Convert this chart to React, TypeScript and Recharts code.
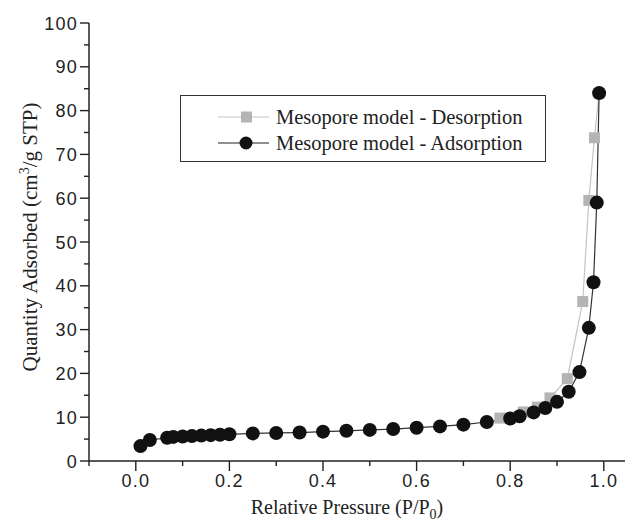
import React from 'react';
import { LineChart, Line, XAxis, YAxis, Legend, Label } from 'recharts';

// relative pressure P/P0 and quantity adsorbed (cm3/g STP)
const adsorptionP = [0.01, 0.03, 0.067, 0.08, 0.1, 0.12, 0.14, 0.16, 0.18, 0.2, 0.25, 0.3, 0.35, 0.4, 0.45, 0.5, 0.55, 0.6, 0.65, 0.7, 0.75, 0.8, 0.82, 0.85, 0.875, 0.9, 0.925, 0.948, 0.968, 0.978, 0.985, 0.99];
const adsorptionQ = [3.4, 4.8, 5.3, 5.5, 5.6, 5.7, 5.8, 5.9, 6.0, 6.1, 6.3, 6.4, 6.5, 6.7, 6.9, 7.1, 7.3, 7.6, 7.9, 8.3, 8.9, 9.7, 10.2, 11.1, 12.1, 13.5, 15.8, 20.3, 30.4, 40.8, 59, 84];

const desorptionP = [0.778, 0.828, 0.858, 0.885, 0.922, 0.955, 0.968, 0.98, 0.99];
const desorptionQ = [9.8, 11.2, 12.3, 14.4, 18.8, 36.4, 59.5, 73.8, 84];

const xTicks = [-0.1, 0, 0.1, 0.2, 0.3, 0.4, 0.5, 0.6, 0.7, 0.8, 0.9, 1.0];
const yTicks = [0, 5, 10, 15, 20, 25, 30, 35, 40, 45, 50, 55, 60, 65, 70, 75, 80, 85, 90, 95, 100];

const desorptionName = 'Mesopore model - Desorption';
const adsorptionName = 'Mesopore model - Adsorption';

const adsorption = adsorptionP.map((p, i) => ({ p, q: adsorptionQ[i] }));
const desorption = desorptionP.map((p, i) => ({ p, q: desorptionQ[i] }));

const AXIS = '#222';
const SANS = '"Liberation Sans", Arial, sans-serif';
const SERIF = '"Liberation Serif", "Times New Roman", serif';

const XTick = (props: any) => {
  const { x, y, payload } = props;
  const v = payload.value;
  const major = v >= 0 && Math.abs(Math.round(v * 10) % 2) === 0;
  return (
    <g>
      <line x1={x} x2={x} y1={y} y2={y + (major ? 10 : 5)} stroke={AXIS} strokeWidth={1.4} />
      {major && (
        <text x={x} y={y + 26} textAnchor="middle" fontFamily={SANS} fontSize={18} letterSpacing={1.2} fill="#222">
          {v.toFixed(1)}
        </text>
      )}
    </g>
  );
};

const YTick = (props: any) => {
  const { x, y, payload } = props;
  const v = payload.value;
  const major = v % 10 === 0;
  return (
    <g>
      <line x1={x} x2={x - (major ? 9 : 5)} y1={y} y2={y} stroke={AXIS} strokeWidth={1.4} />
      {major && (
        <text x={x - 11} y={y + 6.5} textAnchor="end" fontFamily={SANS} fontSize={18} letterSpacing={1.2} fill="#222">
          {v}
        </text>
      )}
    </g>
  );
};

const XTitle = (props: any) => {
  const vb = props.viewBox;
  return (
    <text x={vb.x + vb.width / 2 - 10} y={vb.y + 53} textAnchor="middle" fontFamily={SERIF} fontSize={20} fill="#222">
      Relative Pressure (P/P<tspan dy={5} fontSize={14}>0</tspan><tspan dy={-5}>)</tspan>
    </text>
  );
};

const YTitle = (props: any) => {
  const vb = props.viewBox;
  const cx = 37;
  const cy = vb.y + vb.height / 2 - 5;
  return (
    <text x={cx} y={cy} transform={`rotate(-90, ${cx}, ${cy})`} textAnchor="middle" fontFamily={SERIF} fontSize={21} fill="#222">
      Quantity Adsorbed (cm<tspan dy={-8} fontSize={14}>3</tspan><tspan dy={8}>/g STP)</tspan>
    </text>
  );
};

const SquareDot = (props: any) => {
  const { cx, cy, index } = props;
  return <rect key={`sq-${index}`} x={cx - 5.5} y={cy - 5.5} width={11} height={11} fill="#b4b4b4" />;
};

const LegendBox = () => (
  <div style={{ width: '100%', height: '100%', boxSizing: 'border-box', border: '1.3px solid #333', background: '#fff' }}>
    <svg width={366} height={67} style={{ display: 'block' }}>
      <line x1={37} x2={88} y1={21} y2={21} stroke="#c4c4c4" strokeWidth={1.2} />
      <rect x={60} y={15.5} width={11} height={11} fill="#b4b4b4" />
      <text x={95} y={28} fontFamily={SERIF} fontSize={20.5} fill="#222">{desorptionName}</text>
      <line x1={37} x2={88} y1={47} y2={47} stroke="#222" strokeWidth={1.2} />
      <circle cx={65} cy={47} r={6.5} fill="#111" />
      <text x={95} y={54} fontFamily={SERIF} fontSize={20.5} fill="#222">{adsorptionName}</text>
    </svg>
  </div>
);

export default function App() {
  return (
    <div style={{ position: 'absolute', left: 0, top: 0, width: 626, height: 526, background: '#fff' }}>
      <LineChart width={626} height={526} margin={{ top: 23, right: 1, left: 0, bottom: 25 }}>
        <XAxis
          type="number"
          dataKey="p"
          domain={[-0.1, 1.0453]}
          allowDataOverflow
          ticks={xTicks}
          tick={<XTick />}
          tickLine={false}
          tickSize={0}
          tickMargin={0}
          height={40}
          axisLine={{ stroke: AXIS, strokeWidth: 1.5 }}
        >
          <Label content={<XTitle />} />
        </XAxis>
        <YAxis
          type="number"
          dataKey="q"
          domain={[0, 100]}
          ticks={yTicks}
          tick={<YTick />}
          tickLine={false}
          tickSize={0}
          tickMargin={0}
          width={89}
          interval={0}
          axisLine={{ stroke: AXIS, strokeWidth: 1.5 }}
        >
          <Label content={<YTitle />} />
        </YAxis>
        <Legend
          layout="horizontal"
          verticalAlign="middle"
          align="center"
          wrapperStyle={{ left: 180, top: 95, width: 366, height: 67 }}
          content={() => <LegendBox />}
        />
        <Line
          data={desorption}
          dataKey="q"
          name={desorptionName}
          stroke="#c4c4c4"
          strokeWidth={1.2}
          dot={SquareDot}
          activeDot={false}
          isAnimationActive={false}
        />
        <Line
          data={adsorption}
          dataKey="q"
          name={adsorptionName}
          stroke="#333"
          strokeWidth={1.2}
          dot={{ r: 7, fill: '#111', stroke: '#111', strokeWidth: 0 }}
          activeDot={false}
          isAnimationActive={false}
        />
      </LineChart>
    </div>
  );
}
